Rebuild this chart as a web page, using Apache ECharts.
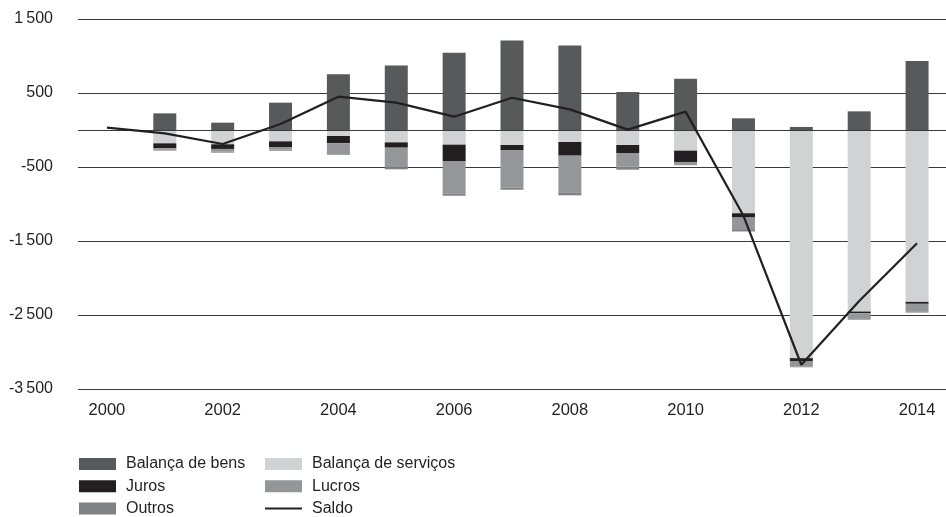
<!DOCTYPE html>
<html>
<head>
<meta charset="utf-8">
<script src="https://cdn.jsdelivr.net/npm/echarts@6/dist/echarts.min.js"></script>
<style>
  html, body { margin: 0; padding: 0; background: #ffffff; }
  #chart { width: 946px; height: 517px; }
</style>
</head>
<body>
<div id="chart"></div>
<script>
const years = ['2000','2001','2002','2003','2004','2005','2006','2007','2008','2009','2010','2011','2012','2013','2014'];
const balancaBens     = [null, 225, 99, 369, 752, 873, 1044, 1211, 1143, 513, 693, 158, 41, 252, 931];
const balancaServicos = [null, -180, -193, -153, -81, -167, -198, -203, -162, -203, -279, -1125, -3083, -2453, -2322];
const juros           = [null, -68, -63, -77, -99, -72, -221, -68, -185, -108, -153, -58, -45, -23, -27];
const lucros          = [null, -20, -36, -36, -144, -270, -437, -509, -495, -185, -31, -157, -68, -77, -108];
const outros          = [null, -10, -14, -14, -10, -22, -32, -27, -41, -40, -13, -31, -10, -10, -10];
const saldo           = [31, -45, -189, 81, 450, 369, 180, 436, 279, 5, 248, -1160, -3172, -2310, -1530];

const font = '"Liberation Sans", Arial, sans-serif';
const ink = '#231f20';

const chart = echarts.init(document.getElementById('chart'), null, { renderer: 'canvas' });

function bar(name, data, color, extra) {
  return Object.assign({
    name: name,
    type: 'bar',
    stack: 'total',
    data: data,
    barWidth: 23,
    itemStyle: { color: color },
    emphasis: { disabled: true },
    animation: false
  }, extra || {});
}

const legendCommon = {
  orient: 'vertical',
  top: 455,
  height: 120,
  padding: 0,
  itemWidth: 37,
  itemHeight: 12,
  itemGap: 4.3,
  icon: 'rect',
  textStyle: { fontFamily: font, fontSize: 16, color: ink, lineHeight: 18, padding: [0, 0, 0, 5] },
  selectedMode: false
};

chart.setOption({
  animation: false,
  backgroundColor: '#ffffff',
  grid: { left: 78, top: 19, width: 877.5, height: 370, containLabel: false },
  legend: [
    Object.assign({}, legendCommon, { left: 79, data: ['Balança de bens', 'Juros', 'Outros'] }),
    Object.assign({}, legendCommon, { left: 265, data: ['Balança de serviços', 'Lucros', { name: 'Saldo', icon: 'path://M0,5 L37,5 L37,7 L0,7 Z' }] })
  ],
  xAxis: {
    type: 'category',
    data: years,
    boundaryGap: true,
    axisLine: { show: false, onZero: false },
    axisTick: { show: false },
    axisLabel: { interval: 1, margin: 13, fontFamily: font, fontSize: 16.5, color: ink },
    splitLine: { show: false }
  },
  yAxis: {
    type: 'value',
    min: -3500,
    max: 1500,
    interval: 1000,
    axisLine: { show: false },
    axisTick: { show: false },
    axisLabel: {
      margin: 25,
      fontFamily: font,
      fontSize: 16,
      color: ink,
      formatter: function (v) { return String(v).replace(/\B(?=(\d{3})+(?!\d))/g, '\u2009'); }
    },
    splitLine: { show: true, lineStyle: { color: '#3a3a3a', width: 1 } }
  },
  series: [
    bar('Balança de bens', balancaBens, '#58595b', {
      markLine: {
        silent: true,
        symbol: 'none',
        label: { show: false },
        lineStyle: { color: '#3a3a3a', width: 1, type: 'solid' },
        data: [{ yAxis: 0 }],
        animation: false
      }
    }),
    bar('Balança de serviços', balancaServicos, '#d1d2d4'),
    bar('Juros', juros, '#231f20'),
    bar('Lucros', lucros, '#959699'),
    bar('Outros', outros, '#808184'),
    {
      name: 'Saldo',
      type: 'line',
      data: saldo,
      symbol: 'none',
      lineStyle: { color: ink, width: 2.2 },
      itemStyle: { color: ink },
      z: 5,
      emphasis: { disabled: true },
      animation: false
    }
  ]
});
</script>
</body>
</html>
